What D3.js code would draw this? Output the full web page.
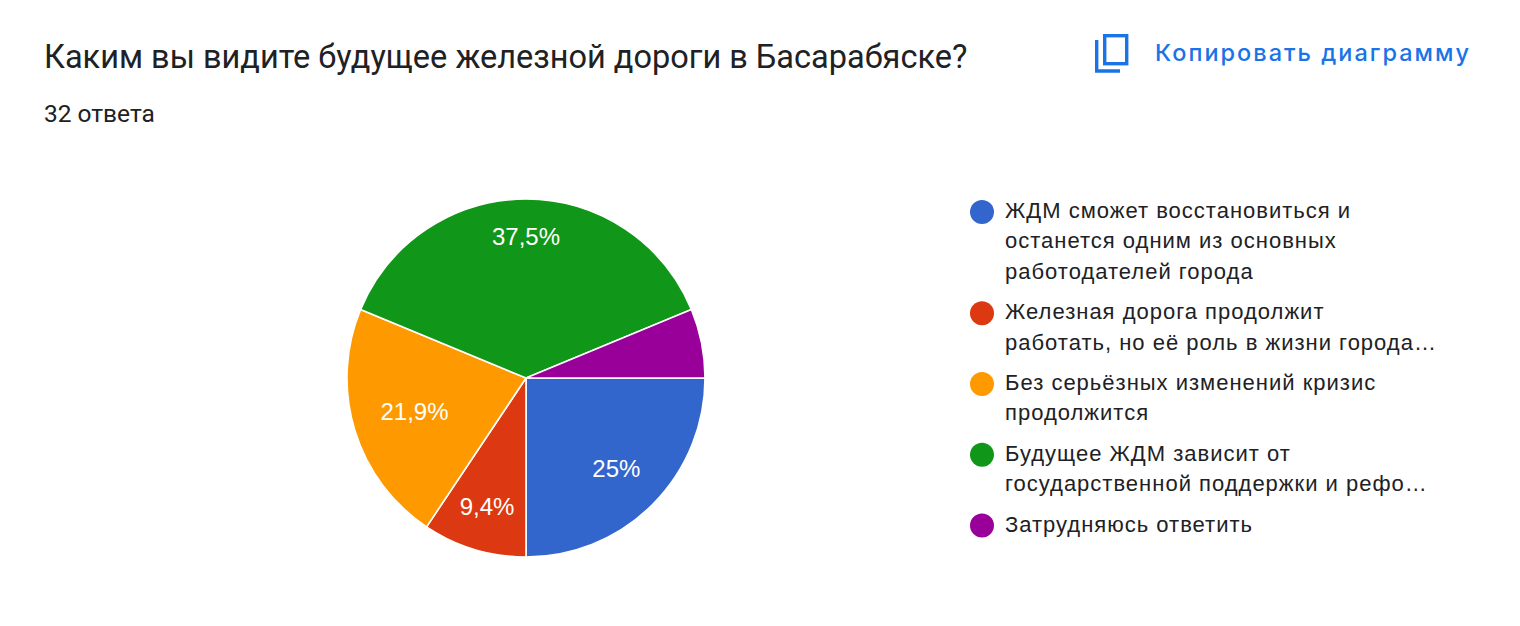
<!DOCTYPE html>
<html><head><meta charset="utf-8">
<script src="https://cdn.jsdelivr.net/npm/d3@7"></script>
<style>
html,body{margin:0;padding:0;background:#fff;}
svg{display:block;}
</style></head>
<body>
<svg id="chart" width="1520" height="626"></svg>
<script>
const title = "Каким вы видите будущее железной дороги в Басарабяске?";
const subtitle = "32 ответа";
const copyLabel = "Копировать диаграмму";
const categories = [
  "ЖДМ сможет восстановиться и останется одним из основных работодателей города",
  "Железная дорога продолжит работать, но её роль в жизни города уменьшится",
  "Без серьёзных изменений кризис продолжится",
  "Будущее ЖДМ зависит от государственной поддержки и реформ",
  "Затрудняюсь ответить"
];
const legendLines = [
  ["ЖДМ сможет восстановиться и", "останется одним из основных", "работодателей города"],
  ["Железная дорога продолжит", "работать, но её роль в жизни города…"],
  ["Без серьёзных изменений кризис", "продолжится"],
  ["Будущее ЖДМ зависит от", "государственной поддержки и рефо…"],
  ["Затрудняюсь ответить"]
];
const counts = [8, 3, 7, 12, 2];
const colors = ["#3366cc", "#dc3912", "#ff9900", "#109618", "#990099"];

const svg = d3.select("#chart");
const total = d3.sum(counts);

svg.append("text").attr("x", 44).attr("y", 68)
  .attr("font-family", "Roboto, sans-serif").attr("font-size", 32.5)
  .attr("fill", "#202124").text(title);
svg.append("text").attr("x", 44).attr("y", 122)
  .attr("font-family", "Roboto, sans-serif").attr("font-size", 24.5)
  .attr("fill", "#202124").text(subtitle);

// copy button
const icon = svg.append("g").attr("fill", "none").attr("stroke", "#1a73e8").attr("stroke-width", 3.4);
icon.append("rect").attr("x", 1104.7).attr("y", 35.7).attr("width", 22).attr("height", 28);
icon.append("path").attr("d", "M1096.7,40 V71 H1120");
svg.append("text").attr("x", 1155).attr("y", 61)
  .attr("font-family", "Inter, 'Open Sans', sans-serif").attr("font-size", 23.5).attr("font-weight", 500)
  .attr("letter-spacing", 2)
  .attr("fill", "#1a73e8").text(copyLabel);

// pie
const cx = 526, cy = 378, r = 179;
const pie = d3.pie().sort(null).value(d => d)
  .startAngle(Math.PI / 2).endAngle(Math.PI / 2 + 2 * Math.PI);
const arcs = pie(counts);
const arc = d3.arc().innerRadius(0).outerRadius(r);
const g = svg.append("g").attr("transform", `translate(${cx},${cy})`);
g.selectAll("path").data(arcs).join("path")
  .attr("d", arc).attr("fill", (d, i) => colors[i])
  .attr("stroke", "#fff").attr("stroke-width", 1.6);

const fmt = v => {
  const p = Math.round(v / total * 1000) / 10;
  return String(p).replace(".", ",") + "%";
};
arcs.forEach((d, i) => {
  const frac = (d.endAngle - d.startAngle) / (2 * Math.PI);
  if (frac < 0.08) return;
  const t = g.append("text").attr("font-family", "Arial, 'Liberation Sans', sans-serif")
    .attr("font-size", 24).attr("fill", "#fff").attr("text-anchor", "middle")
    .text(fmt(d.value));
  const w = t.node().getComputedTextLength();
  const a = (d.startAngle + d.endAngle) / 2;
  const ux = Math.sin(a), uy = -Math.cos(a);
  const hw = w / 2, hh = 10.5;
  const dist = 0.85 * r - (hw * Math.abs(ux) + hh * Math.abs(uy));
  t.attr("x", ux * dist).attr("y", uy * dist + 8.5);
});

// legend
const lx = 982, ly0 = 218, lh = 30.4, gap = 10;
let y = ly0;
legendLines.forEach((lines, i) => {
  const lg = svg.append("g");
  lg.append("circle").attr("cx", lx).attr("cy", y - 6).attr("r", 12).attr("fill", colors[i]);
  lines.forEach((ln, j) => {
    lg.append("text").attr("x", 1005).attr("y", y + j * lh)
      .attr("font-family", "Arial, 'Liberation Sans', sans-serif").attr("font-size", 22)
      .attr("letter-spacing", 1)
      .attr("fill", "#202124").text(ln);
  });
  y += lines.length * lh + gap;
});
</script>
</body></html>
